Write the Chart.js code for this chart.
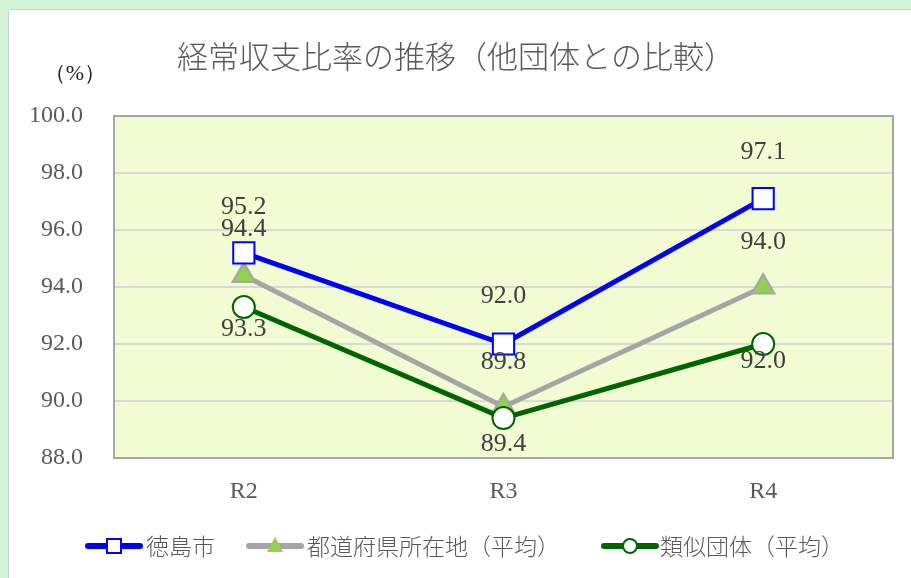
<!DOCTYPE html>
<html>
<head>
<meta charset="utf-8">
<script src="https://cdn.jsdelivr.net/npm/chart.js@4.4.1/dist/chart.umd.min.js"></script>
<style>
html,body{margin:0;padding:0;width:911px;height:578px;overflow:hidden;background:#d5f5d8;}
#card{position:absolute;left:8px;top:9px;width:920px;height:600px;background:#fff;border:1px solid #d0d0d0;border-radius:3px;}
#wrap{position:absolute;left:0;top:0;width:911px;height:578px;}
</style>
</head>
<body>
<div id="card"></div>
<div id="wrap"><canvas id="c" width="911" height="578"></canvas></div>
<script>
const categories = ['R2', 'R3', 'R4'];
const tokushima = [95.2, 92.0, 97.1];
const prefCapitals = [94.4, 89.8, 94.0];
const similarGroups = [93.3, 89.4, 92.0];
const seriesNames = ['徳島市', '都道府県所在地（平均）', '類似団体（平均）'];
const yMin = 88, yMax = 100, yStep = 2;
const titleText = '経常収支比率の推移（他団体との比較）';
const unitText = '（%）';

const SERIF = '"Liberation Serif","DejaVu Serif",serif';
const CJK = '"Noto Sans CJK JP","Noto Sans CJK SC",sans-serif';

const labelPlugin = {
  id: 'labelsAndDeco',
  beforeDraw(chart) {
    const {ctx, chartArea: a} = chart;
    ctx.save();
    ctx.fillStyle = '#f1fcd3';
    ctx.fillRect(a.left, a.top, a.right - a.left, a.bottom - a.top);
    ctx.restore();
  },
  afterDatasetsDraw(chart) {
    const {ctx, chartArea: a} = chart;
    ctx.save();
    ctx.strokeStyle = '#a6a6a6';
    ctx.lineWidth = 2;
    ctx.strokeRect(a.left, a.top, a.right - a.left, a.bottom - a.top);
    ctx.font = '26px ' + SERIF;
    ctx.fillStyle = '#404040';
    ctx.textAlign = 'center';
    ctx.textBaseline = 'middle';
    chart.data.datasets.forEach((ds, i) => {
      const meta = chart.getDatasetMeta(i);
      meta.data.forEach((pt, j) => {
        const off = ds.labelOffsets[j];
        ctx.fillText(ds.data[j].toFixed(1), pt.x, pt.y + off);
      });
    });
    ctx.restore();
  },
  afterDraw(chart) {
    const {ctx} = chart;
    ctx.save();
    ctx.font = '300 31px ' + CJK;
    ctx.fillStyle = '#595959';
    ctx.textAlign = 'center';
    ctx.textBaseline = 'middle';
    ctx.fillText(titleText, 456, 56);
    ctx.font = '22px ' + SERIF;
    ctx.fillStyle = '#222';
    ctx.fillText(unitText, 75, 74);
    const items = [
      {x: 86, textX: 146},
      {x: 247, textX: 307},
      {x: 602, textX: 660}
    ];
    const ly = 546;
    chart.data.datasets.forEach((ds, i) => {
      const it = items[i];
      ctx.strokeStyle = ds.borderColor;
      ctx.lineWidth = 6;
      ctx.lineCap = 'round';
      ctx.beginPath();
      ctx.moveTo(it.x + 2, ly);
      ctx.lineTo(it.x + 54, ly);
      ctx.stroke();
      const cx = it.x + 28;
      ctx.lineWidth = 2;
      ctx.fillStyle = ds.pointBackgroundColor;
      ctx.strokeStyle = ds.pointBorderColor;
      ctx.beginPath();
      if (ds.pointStyle === 'rect') {
        ctx.rect(cx - 7, ly - 7, 14, 14);
        ctx.fill(); ctx.stroke();
      } else if (ds.pointStyle === 'triangle') {
        ctx.moveTo(cx, ly - 9);
        ctx.lineTo(cx + 8, ly + 6);
        ctx.lineTo(cx - 8, ly + 6);
        ctx.closePath();
        ctx.fill();
      } else {
        ctx.arc(cx, ly, 7, 0, Math.PI * 2);
        ctx.fill(); ctx.stroke();
      }
      ctx.font = '300 23px ' + CJK;
      ctx.fillStyle = '#595959';
      ctx.textAlign = 'left';
      ctx.textBaseline = 'middle';
      ctx.fillText(seriesNames[i], it.textX, ly);
    });
    ctx.restore();
  }
};

new Chart(document.getElementById('c'), {
  type: 'line',
  data: {
    labels: categories,
    datasets: [
      {
        label: seriesNames[0], data: tokushima,
        borderColor: '#0000ff', borderWidth: 5,
        pointStyle: 'rect', pointRadius: 15, pointHoverRadius: 15,
        pointBackgroundColor: '#ffffff', pointBorderColor: '#0000ff', pointBorderWidth: 2,
        labelOffsets: [-46, -48, -46], order: 0
      },
      {
        label: seriesNames[1], data: prefCapitals,
        borderColor: '#a5a5a5', borderWidth: 5,
        pointStyle: 'triangle', pointRadius: 13, pointHoverRadius: 13,
        pointBackgroundColor: '#92d050', pointBorderColor: '#a5a5a5', pointBorderWidth: 2,
        labelOffsets: [-46, -45, -45], order: 2
      },
      {
        label: seriesNames[2], data: similarGroups,
        borderColor: '#006400', borderWidth: 5,
        pointStyle: 'circle', pointRadius: 11, pointHoverRadius: 11,
        pointBackgroundColor: '#ffffff', pointBorderColor: '#006400', pointBorderWidth: 2,
        labelOffsets: [22, 26, 17], order: 1
      }
    ]
  },
  options: {
    responsive: false,
    animation: false,
    events: [],
    layout: {padding: {left: 0, right: 18, top: 116, bottom: 0}},
    plugins: {legend: {display: false}, title: {display: false}, tooltip: {enabled: false}},
    scales: {
      x: {
        offset: true,
        grid: {display: false, drawTicks: false},
        border: {display: false},
        ticks: {font: {family: SERIF, size: 24}, color: '#595959', padding: 19},
        afterFit(s) { s.height = 120; }
      },
      y: {
        min: yMin, max: yMax,
        grid: {color: '#d9d9d9', lineWidth: 2, drawTicks: false},
        border: {display: false},
        ticks: {stepSize: yStep, font: {family: SERIF, size: 24}, color: '#595959', padding: 31,
          callback: v => v.toFixed(1)},
        afterFit(s) { s.width = 114; }
      }
    }
  },
  plugins: [labelPlugin]
});
</script>
</body>
</html>
